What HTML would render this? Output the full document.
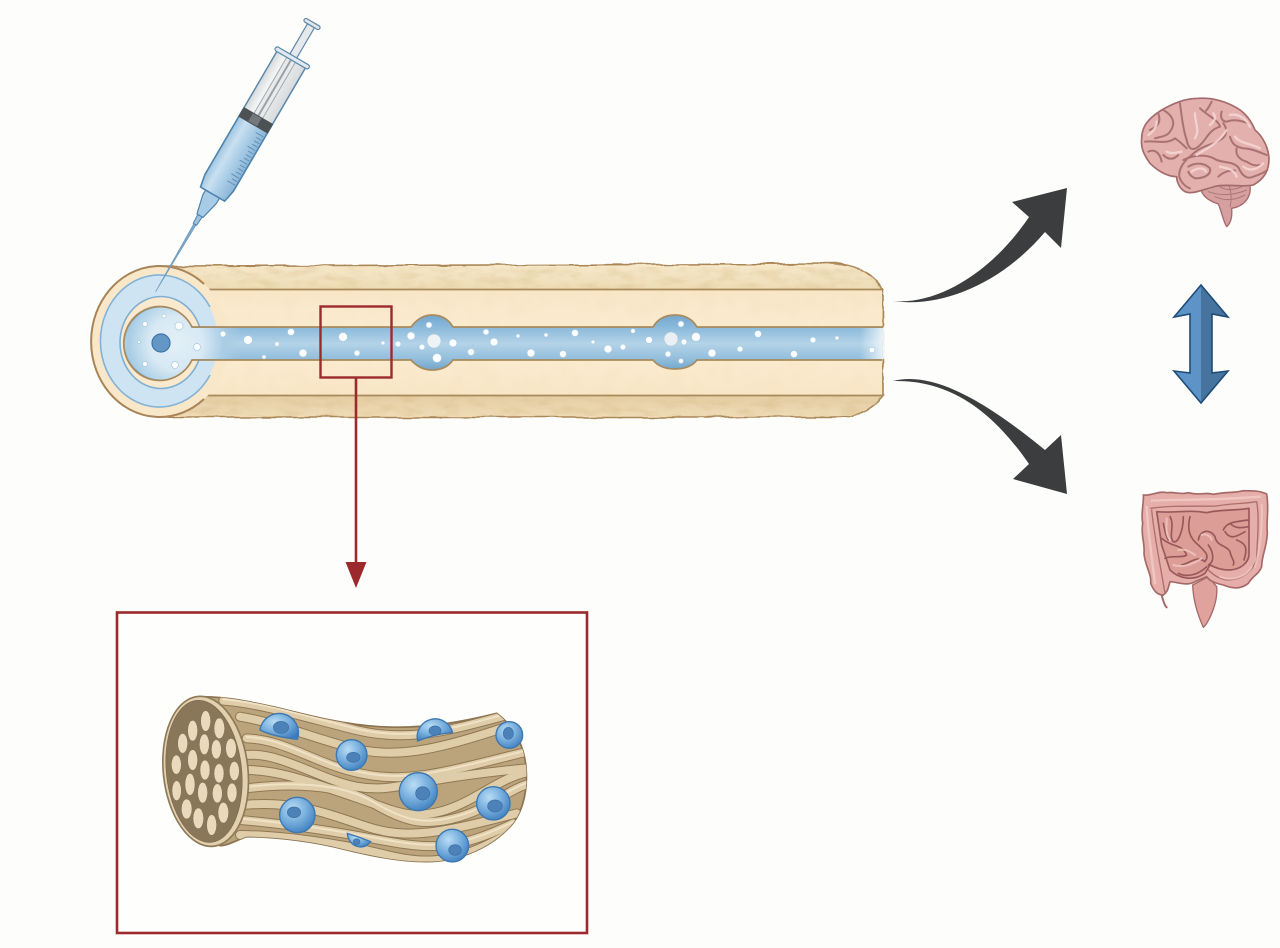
<!DOCTYPE html>
<html lang="en">
<head>
<meta charset="utf-8">
<title>Diagram</title>
<style>
html,body{margin:0;padding:0;background:#fdfdfc;}
svg{display:block;}
</style>
</head>
<body>
<svg xmlns="http://www.w3.org/2000/svg" width="1280" height="948" viewBox="0 0 1280 948">
<defs>
  <filter id="rough" x="-2%" y="-10%" width="104%" height="120%">
    <feTurbulence type="fractalNoise" baseFrequency="0.035 0.09" numOctaves="2" seed="4" result="n"/>
    <feDisplacementMap in="SourceGraphic" in2="n" scale="5" xChannelSelector="R" yChannelSelector="G"/>
  </filter>
  <filter id="tex" x="0" y="0" width="100%" height="100%">
    <feTurbulence type="fractalNoise" baseFrequency="0.05 0.13" numOctaves="3" seed="9"/>
    <feColorMatrix type="matrix" values="0 0 0 0 0.72  0 0 0 0 0.54  0 0 0 0 0.28  0 0 0 2.6 -1.1"/>
  </filter>
  <filter id="texsoft" x="0" y="0" width="100%" height="100%">
    <feTurbulence type="fractalNoise" baseFrequency="0.06 0.05" numOctaves="2" seed="2"/>
    <feColorMatrix type="matrix" values="0 0 0 0 0.85  0 0 0 0 0.68  0 0 0 0 0.4  0 0 0 1.2 -0.5"/>
  </filter>
  <filter id="soft"><feGaussianBlur stdDeviation="0.5"/></filter>
  <linearGradient id="band" x1="0" y1="264" x2="0" y2="418" gradientUnits="userSpaceOnUse">
    <stop offset="0" stop-color="#f6e8ca"/>
    <stop offset=".16" stop-color="#eedcb6"/>
    <stop offset=".82" stop-color="#e3caa0"/>
    <stop offset="1" stop-color="#efdcb8"/>
  </linearGradient>
  <linearGradient id="cream" x1="0" y1="289" x2="0" y2="395" gradientUnits="userSpaceOnUse">
    <stop offset="0" stop-color="#f8e6c6"/>
    <stop offset=".5" stop-color="#fcedd3"/>
    <stop offset="1" stop-color="#f8e6c6"/>
  </linearGradient>
  <linearGradient id="lumen" x1="0" y1="315" x2="0" y2="370" gradientUnits="userSpaceOnUse">
    <stop offset="0" stop-color="#74a7cc"/>
    <stop offset=".22" stop-color="#8ab9da"/>
    <stop offset=".52" stop-color="#b4d3e8"/>
    <stop offset=".8" stop-color="#92bedc"/>
    <stop offset="1" stop-color="#72a5ca"/>
  </linearGradient>
  <radialGradient id="cavity" cx="176" cy="343" r="66" gradientUnits="userSpaceOnUse">
    <stop offset="0" stop-color="#e2eff7"/>
    <stop offset=".4" stop-color="#d8e9f4"/>
    <stop offset=".72" stop-color="#a9cde5"/>
    <stop offset="1" stop-color="#a9cde5" stop-opacity="0"/>
  </radialGradient>
  <linearGradient id="fadeR" x1="860" y1="0" x2="885" y2="0" gradientUnits="userSpaceOnUse">
    <stop offset="0" stop-color="#f2f8fb" stop-opacity="0"/>
    <stop offset="1" stop-color="#f2f8fb" stop-opacity=".95"/>
  </linearGradient>
  <linearGradient id="barrel" x1="-17" y1="0" x2="17" y2="0" gradientUnits="userSpaceOnUse">
    <stop offset="0" stop-color="#d4d8db"/>
    <stop offset=".3" stop-color="#f4f5f5"/>
    <stop offset="1" stop-color="#d6d9db"/>
  </linearGradient>
  <linearGradient id="liquid" x1="-17" y1="0" x2="17" y2="0" gradientUnits="userSpaceOnUse">
    <stop offset="0" stop-color="#9cc4e0"/>
    <stop offset=".28" stop-color="#c9e0f0"/>
    <stop offset=".6" stop-color="#a9cce6"/>
    <stop offset="1" stop-color="#88b4d6"/>
  </linearGradient>
  <radialGradient id="cell" cx=".38" cy=".32" r=".75">
    <stop offset="0" stop-color="#b9dcf4"/>
    <stop offset=".45" stop-color="#7fb4e0"/>
    <stop offset="1" stop-color="#3c7dbd"/>
  </radialGradient>
  <clipPath id="bandclip">
    <path d="M166 266L840 264Q870 268 883 290L883 395Q875 410 850 417L166 417Z"/>
  </clipPath>
  <clipPath id="nerveclip">
    <path d="M190 50C260 50 330 65 420 85C520 110 620 135 720 140C850 148 970 125 1070 100C1110 130 1150 180 1158 260C1165 340 1145 410 1100 450C1050 500 960 545 860 545C770 545 680 525 580 500C480 478 380 470 320 470C290 480 265 497 240 497Z"/>
  </clipPath>
</defs>

<rect width="1280" height="948" fill="#fdfdfc"/>

<!-- tube body -->
<path d="M166 266L840 264Q870 268 883 290L883 395Q875 410 850 417L166 417Z" fill="url(#band)" stroke="#ab8757" stroke-width="1.6" filter="url(#rough)"/>
<g clip-path="url(#bandclip)">
  <rect x="166" y="267" width="717" height="22" filter="url(#tex)" opacity=".4"/>
  <rect x="166" y="395" width="717" height="21" filter="url(#tex)" opacity=".5"/>
</g>
<rect x="166" y="289" width="716" height="106" fill="url(#cream)"/>
<rect x="166" y="289" width="716" height="106" filter="url(#texsoft)" opacity=".25"/>
<path d="M190 289.5H882M190 395.5H882" stroke="#a98a5c" stroke-width="1.7" fill="none"/>

<!-- end cap -->
<ellipse cx="160" cy="341.5" rx="68.5" ry="75.5" fill="#f9e7c9"/>
<path d="M204 284A68.5 75.5 0 1 0 204 399" fill="none" stroke="#a98458" stroke-width="2"/>
<ellipse cx="159" cy="341" rx="59" ry="66" fill="#cfe4f2"/>
<path d="M210 307A59 66 0 1 0 210 375" fill="none" stroke="#82b3d6" stroke-width="1.6"/>
<ellipse cx="161" cy="342.5" rx="41" ry="46" fill="#fae9cd" stroke="#7fb0d4" stroke-width="1.6"/>

<!-- lumen -->
<path id="lum" d="M882 327L697 327Q690 315 675 315Q660 315 653 327L453 327Q446 315 432 315Q420 315 411 327L192 327A36 37 0 1 0 192 360L411 360Q420 370 432 370Q446 370 453 360L653 360Q660 369 675 369Q690 369 697 360L882 360" fill="url(#lumen)"/>
<path d="M245 328L192 328A35 36 0 1 0 192 359L245 359Z" fill="url(#cavity)"/>
<path d="M882 327L697 327Q690 315 675 315Q660 315 653 327L453 327Q446 315 432 315Q420 315 411 327L192 327A36 37 0 1 0 192 360L411 360Q420 370 432 370Q446 370 453 360L653 360Q660 369 675 369Q690 369 697 360L882 360" fill="none" stroke="#a98a5c" stroke-width="1.7"/>
<rect x="860" y="328" width="25" height="31" fill="url(#fadeR)"/>
<circle cx="161" cy="343" r="9" fill="#6497c6" stroke="#3f74a8" stroke-width="1.2"/>

<!-- bubbles -->
<g fill="#fbfdfe" stroke="#a9cbe2" stroke-width=".7">
  <circle cx="223" cy="334" r="3"/><circle cx="248" cy="340" r="4.5"/><circle cx="277" cy="344" r="2.5"/><circle cx="291" cy="332" r="3.5"/><circle cx="303" cy="353" r="4"/><circle cx="264" cy="357" r="2"/><circle cx="343" cy="337" r="4.5"/><circle cx="357" cy="353" r="3"/><circle cx="383" cy="343" r="2"/><circle cx="398" cy="344" r="3"/><circle cx="197" cy="347" r="3.5"/><circle cx="179" cy="326" r="4"/><circle cx="164" cy="316" r="2"/><circle cx="145" cy="324" r="2.5"/><circle cx="139" cy="342" r="1.5"/><circle cx="145" cy="364" r="2.5"/><circle cx="175" cy="365" r="3.5"/>
  <circle cx="411" cy="336" r="4"/><circle cx="422" cy="347" r="3"/><circle cx="429" cy="325" r="3"/><circle cx="434" cy="341" r="7" fill="#eef3f5"/><circle cx="437" cy="358" r="4.5"/><circle cx="453" cy="343" r="4"/><circle cx="471" cy="352" r="3.5"/><circle cx="486" cy="332" r="3"/><circle cx="494" cy="342" r="4"/><circle cx="518" cy="336" r="2"/><circle cx="531" cy="353" r="4"/><circle cx="546" cy="335" r="2"/><circle cx="563" cy="354" r="3.5"/><circle cx="575" cy="333" r="3.5"/><circle cx="593" cy="342" r="2"/><circle cx="608" cy="349" r="4"/><circle cx="623" cy="347" r="3"/><circle cx="633" cy="331" r="2.3"/><circle cx="649" cy="340" r="3.5"/><circle cx="671" cy="339" r="7" fill="#e9eff2"/><circle cx="681" cy="324" r="3"/><circle cx="684" cy="342" r="3"/><circle cx="696" cy="337" r="4.5"/><circle cx="668" cy="354" r="3"/><circle cx="681" cy="361" r="2.5"/><circle cx="712" cy="353" r="4"/><circle cx="740" cy="349" r="3"/><circle cx="758" cy="334" r="3.5"/><circle cx="794" cy="354" r="3.5"/><circle cx="813" cy="340" r="3"/><circle cx="837" cy="338" r="2"/><circle cx="872" cy="350" r="3"/>
</g>

<!-- syringe -->
<g transform="translate(312,24) rotate(30.3)" stroke-linejoin="round">
  <path d="M-1.3 232L1.3 232L0 310Z" fill="#7fa9c8" stroke="#6c9abd" stroke-width=".7"/>
  <path d="M-2.5 222L2.5 222L2 232L-2 232Z" fill="#9fc3de" stroke="#4f84ad" stroke-width="1"/>
  <path d="M-8 194L8 194L8 203L3.5 222L-3.5 222L-8 203Z" fill="#a9cce6" stroke="#4f84ad" stroke-width="1.2"/>
  <rect x="-4" y="2" width="8" height="36" fill="#e6e9eb" stroke="#5f87a6" stroke-width="1.2"/>
  <rect x="-9" y="-2" width="18" height="4" rx="2" fill="#dfe6eb" stroke="#5f87a6" stroke-width="1.2"/>
  <rect x="-16.5" y="39" width="33" height="70" fill="url(#barrel)" stroke="#5a88ab" stroke-width="1.5"/>
  <rect x="-5" y="39" width="10" height="68" fill="#e8eaeb" stroke="#a2a9ae" stroke-width="1"/>
  <rect x="-1" y="39" width="2" height="68" fill="#9aa2a8"/>
  <path d="M-16.5 109H16.5V184L14 197H-14L-16.5 184Z" fill="url(#liquid)" stroke="#4f84ad" stroke-width="1.6"/>
  <rect x="-17" y="106" width="34" height="11" fill="#4c5154"/>
  <rect x="-6" y="107" width="10" height="9" fill="#72787b"/>
  <rect x="-19.5" y="37" width="39" height="4.5" rx="2.2" fill="#e2e9ee" stroke="#5a88ab" stroke-width="1.2"/>
  <g stroke="#5d8db3" stroke-width=".9">
    <path d="M6 122H15M9 126H15M9 130H15M9 134H15M6 138H15M9 142H15M9 146H15M9 150H15M6 154H15M9 158H15M9 162H15M9 166H15M6 170H15M9 174H15M6 178H15"/>
  </g>
</g>

<!-- red zoom box and arrow -->
<rect x="320.5" y="306.5" width="71" height="71" fill="none" stroke="#9c2a2d" stroke-width="2.4"/>
<path d="M356 378V566" stroke="#9c2a2d" stroke-width="2.6" fill="none"/>
<path d="M345.5 562L366.5 562L356 588Z" fill="#9c2a2d"/>
<rect x="117" y="612.5" width="470" height="320.5" fill="#fefefd" stroke="#9c2a2d" stroke-width="2.6"/>

<!-- nerve bundle -->
<g transform="translate(140,680) scale(.33333)">
  <path d="M190 50C260 50 330 65 420 85C520 110 620 135 720 140C850 148 970 125 1070 100C1110 130 1150 180 1158 260C1165 340 1145 410 1100 450C1050 500 960 545 860 545C770 545 680 525 580 500C480 478 380 470 320 470C290 480 265 497 240 497Z" fill="#bba37c" stroke="#8a7350" stroke-width="5"/>
  <g clip-path="url(#nerveclip)" fill="none" stroke-linecap="round">
    <g stroke="#8f7853" stroke-width="30">
      <path d="M250 62C360 70 490 110 640 148S900 160 1090 108"/>
      <path d="M300 110C420 130 520 175 640 205S880 215 1100 140"/>
      <path d="M320 175C440 180 520 250 660 280S900 280 1160 215"/>
      <path d="M320 225C420 215 540 300 650 320S800 300 1160 265"/>
      <path d="M320 270C420 270 520 310 640 350S800 420 900 395S1080 290 1170 275"/>
      <path d="M320 325C440 310 600 310 700 370S860 440 960 410S1100 330 1170 310"/>
      <path d="M310 375C460 360 560 400 680 440S900 460 1130 400"/>
      <path d="M300 420C420 430 560 450 720 480S950 510 1120 430"/>
      <path d="M300 465C420 465 600 490 740 525S960 540 1100 465"/>
    </g>
    <g stroke="#dfccA8" stroke-width="24">
      <path d="M250 62C360 70 490 110 640 148S900 160 1090 108"/>
      <path d="M300 110C420 130 520 175 640 205S880 215 1100 140"/>
      <path d="M320 175C440 180 520 250 660 280S900 280 1160 215"/>
      <path d="M320 225C420 215 540 300 650 320S800 300 1160 265"/>
      <path d="M320 270C420 270 520 310 640 350S800 420 900 395S1080 290 1170 275"/>
      <path d="M320 325C440 310 600 310 700 370S860 440 960 410S1100 330 1170 310"/>
      <path d="M310 375C460 360 560 400 680 440S900 460 1130 400"/>
      <path d="M300 420C420 430 560 450 720 480S950 510 1120 430"/>
      <path d="M300 465C420 465 600 490 740 525S960 540 1100 465"/>
    </g>
    <g stroke="#efe2c7" stroke-width="6">
      <path d="M250 58C360 66 490 106 640 144S900 156 1090 104"/>
      <path d="M320 171C440 176 520 246 660 276S900 276 1160 211"/>
      <path d="M320 321C440 306 600 306 700 366S860 436 960 406S1100 326 1170 306"/>
      <path d="M300 416C420 426 560 446 720 476S950 506 1120 426"/>
    </g>
  </g>
  <!-- cells -->
  <g stroke="#3b77b0" stroke-width="4" fill="url(#cell)">
    <path d="M472 178A58 58 0 1 0 360 150Q400 170 472 178Z"/>
    <circle cx="635" cy="225" r="46"/>
    <path d="M833 183A52 52 0 0 1 938 158Q890 160 833 183Z"/>
    <circle cx="1108" cy="165" r="40"/>
    <circle cx="835" cy="335" r="57"/>
    <circle cx="1060" cy="370" r="50"/>
    <circle cx="472" cy="405" r="53"/>
    <path d="M622 460Q655 470 692 485C670 515 625 500 622 460Z"/>
    <circle cx="937" cy="497" r="49"/>
  </g>
  <g fill="#4c82b8" stroke="#3a6fa3" stroke-width="2">
    <ellipse cx="423" cy="142" rx="23" ry="18"/>
    <ellipse cx="640" cy="232" rx="20" ry="15"/>
    <ellipse cx="885" cy="152" rx="18" ry="14"/>
    <ellipse cx="1105" cy="160" rx="15" ry="18"/>
    <ellipse cx="848" cy="340" rx="21" ry="20"/>
    <ellipse cx="1065" cy="378" rx="22" ry="18"/>
    <ellipse cx="462" cy="397" rx="20" ry="16"/>
    <ellipse cx="650" cy="485" rx="10" ry="9"/>
    <ellipse cx="945" cy="510" rx="19" ry="16"/>
  </g>
  <!-- cut end -->
  <ellipse cx="197" cy="274" rx="127" ry="226" transform="rotate(-6 197 274)" fill="#e2d0ae" stroke="#8f7a58" stroke-width="5"/>
  <ellipse cx="192" cy="274" rx="113" ry="214" transform="rotate(-6 192 274)" fill="#8a7658" stroke="#7c6a4e" stroke-width="2"/>
  <g fill="#ead9bb" stroke="#7f6d52" stroke-width="1.5">
    <ellipse cx="197" cy="123" rx="15" ry="31"/><ellipse cx="238" cy="145" rx="16" ry="31"/><ellipse cx="158" cy="152" rx="15" ry="31"/><ellipse cx="128" cy="190" rx="15" ry="30"/><ellipse cx="193" cy="193" rx="15" ry="31"/><ellipse cx="229" cy="208" rx="15" ry="29"/><ellipse cx="273" cy="205" rx="16" ry="30"/><ellipse cx="158" cy="240" rx="15" ry="31"/><ellipse cx="109" cy="254" rx="15" ry="29"/><ellipse cx="195" cy="270" rx="15" ry="30"/><ellipse cx="237" cy="280" rx="15" ry="29"/><ellipse cx="283" cy="273" rx="15" ry="29"/><ellipse cx="150" cy="313" rx="15" ry="33"/><ellipse cx="110" cy="332" rx="14" ry="30"/><ellipse cx="188" cy="338" rx="15" ry="31"/><ellipse cx="232" cy="340" rx="15" ry="29"/><ellipse cx="276" cy="338" rx="15" ry="29"/><ellipse cx="140" cy="387" rx="16" ry="30"/><ellipse cx="175" cy="415" rx="16" ry="31"/><ellipse cx="250" cy="398" rx="16" ry="31"/><ellipse cx="215" cy="435" rx="15" ry="31"/>
  </g>
</g>

<!-- flow arrows -->
<path d="M893 301C935 305 990 275 1029 217L1012 202L1067 188L1061 248L1045 232C1000 285 940 308 893 301Z" fill="#3b3d3e"/>
<path d="M893 381C935 370 990 405 1045 450L1061 435L1067 494L1013 479L1029 464C985 400 940 380 893 381Z" fill="#3b3d3e"/>

<!-- double arrow -->
<path d="M1201 285L1174 317L1190 314V372L1174 371L1201 403Z" fill="#5e93c8"/>
<path d="M1201 285L1228 317L1212 314V372L1228 371L1201 403Z" fill="#47749f"/>
<path d="M1201 285L1228 317L1212 314V373L1228 371L1201 403L1174 371L1190 373V314L1174 317Z" fill="none" stroke="#1f4d78" stroke-width="1.6" stroke-linejoin="miter"/>

<!-- brain -->
<g transform="translate(1120,80) scale(.33333)" fill="none" stroke-linecap="round" stroke-linejoin="round">
  <path d="M240 320C245 345 260 360 295 372C305 395 310 425 320 440C332 430 337 410 335 385C375 378 395 350 390 315L340 295Z" fill="#d5a09f" stroke="#a56a6c" stroke-width="4"/>
  <path d="M265 335Q320 355 380 330M285 350Q330 370 375 345M300 320Q330 340 375 315M320 300Q340 340 330 380" stroke="#b07577" stroke-width="3"/>
  <path d="M65 175C65 140 85 115 125 90C160 70 195 55 235 55C270 52 310 62 340 78C375 95 395 125 405 150C430 170 445 205 447 235C447 270 435 295 400 315C370 322 330 312 290 318C250 328 215 345 195 335C178 325 170 305 170 290C140 290 110 270 90 250C72 225 62 205 65 175Z" fill="#e3b0ae" stroke="#a56a6c" stroke-width="5"/>
  <g stroke="#ab7274" stroke-width="6">
    <path d="M90 150C110 140 125 130 115 100"/>
    <path d="M130 90C165 110 165 135 150 155C140 170 120 170 105 175"/>
    <path d="M75 185C105 180 140 195 165 175C180 185 190 195 200 205"/>
    <path d="M180 70C185 110 190 150 200 180C205 205 215 215 235 200C260 180 265 150 300 140C295 120 260 105 240 85"/>
    <path d="M275 65C270 75 265 85 258 92"/>
    <path d="M305 95C300 110 305 125 320 125C345 115 370 125 385 130"/>
    <path d="M310 130C325 150 320 170 300 180C280 195 245 195 215 225C195 240 175 265 178 290C182 305 195 320 210 325"/>
    <path d="M190 240C220 225 260 220 290 240C320 250 340 245 355 262C365 285 380 300 400 290C415 285 430 280 442 270"/>
    <path d="M205 260C230 245 255 250 270 265C275 285 250 295 225 295C215 290 208 285 205 275"/>
    <path d="M330 170C335 190 345 200 370 205C395 205 420 218 440 225"/>
    <path d="M350 205C345 225 360 240 380 245C395 255 405 258 420 255"/>
    <path d="M295 290C310 275 330 270 345 272"/>
    <path d="M130 225C145 240 160 240 175 225M85 215C105 205 120 220 125 245"/>
  </g>
  <g stroke="#f5d8d5" stroke-width="7" opacity=".85">
    <path d="M215 275C235 260 255 265 258 275"/>
    <path d="M225 100C225 130 240 150 225 175"/>
    <path d="M330 105C350 100 375 110 390 140"/>
    <path d="M85 165C100 155 110 140 110 125"/>
    <path d="M140 215C160 225 175 215 185 215"/>
    <path d="M345 170C360 190 390 190 420 205"/>
    <path d="M270 135C285 120 290 115 280 100"/>
    <path d="M230 225C260 205 290 195 320 150"/>
    <path d="M300 260C320 265 340 265 350 290"/>
    <path d="M370 260C390 275 410 270 430 250"/>
  </g>
</g>

<!-- intestines -->
<g transform="translate(1120,480) scale(.33333)" fill="none" stroke-linecap="round" stroke-linejoin="round">
  <path d="M125 345C130 365 135 378 140 382" stroke="#a56a68" stroke-width="6"/>
  <path d="M218 315C220 370 240 420 250 442C262 435 295 370 290 320L265 290Z" fill="#e0a29c" stroke="#a56a68" stroke-width="4"/>
  <path d="M70 45C95 48 115 32 140 38C165 35 185 45 205 38C240 48 255 35 280 43C320 35 340 40 370 32C395 32 420 32 440 42C448 90 438 120 442 160C440 205 425 225 425 260C415 285 400 285 385 310C360 330 335 325 310 315C290 310 270 305 260 290L225 305C200 320 170 305 150 305C145 320 145 335 130 345C110 345 100 330 92 310C95 280 75 260 72 220C75 190 62 165 68 130C62 100 72 70 70 45Z" fill="#e6aea8" stroke="#a56a68" stroke-width="5"/>
  <path d="M110 95C170 100 200 88 260 98C300 88 350 92 387 85V225C385 250 360 268 330 270C300 270 285 262 270 255L255 280C220 305 175 295 150 270L125 195Z" fill="#dd9d97" stroke="#9a5a5a" stroke-width="5"/>
  <path d="M92 85C160 75 230 80 290 78C330 70 370 72 410 65C420 120 410 190 410 240C395 275 370 300 320 300C295 295 280 285 265 270" stroke="#ad6f6c" stroke-width="4"/>
  <path d="M95 90C100 150 118 240 135 340" stroke="#ad6f6c" stroke-width="4"/>
  <path d="M80 80C82 140 95 230 105 310" stroke="#f2cdc6" stroke-width="7" opacity=".8"/>
  <path d="M95 62C160 58 260 62 420 50" stroke="#f2cdc6" stroke-width="7" opacity=".8"/>
  <path d="M425 75C428 140 420 210 405 260" stroke="#f2cdc6" stroke-width="6" opacity=".7"/>
  <g stroke="#985858" stroke-width="5">
    <path d="M150 110C165 135 145 170 160 185C175 190 190 150 190 110"/>
    <path d="M125 175C160 205 185 190 200 225C190 235 150 225 135 235"/>
    <path d="M210 110C200 150 210 175 235 195C255 215 270 225 255 245C230 225 210 250 185 255"/>
    <path d="M235 180C240 150 270 145 285 170C290 200 320 195 330 215C335 240 345 240 340 255"/>
    <path d="M265 195C280 215 285 245 265 255"/>
    <path d="M310 150C320 125 350 125 385 120M315 155C330 180 350 170 375 155M330 130C345 145 360 145 385 140"/>
    <path d="M350 180C375 190 385 200 372 240"/>
    <path d="M175 280C205 295 240 280 260 260"/>
    <path d="M130 130C135 150 135 165 145 180"/>
  </g>
  <g stroke="#efc6c0" stroke-width="6" opacity=".85">
    <path d="M175 210C195 205 210 215 225 225"/>
    <path d="M245 165C255 160 270 165 275 180"/>
    <path d="M140 115C140 135 135 160 150 180"/>
    <path d="M300 290C335 305 380 290 395 260"/>
    <path d="M160 255C190 265 225 250 245 235"/>
  </g>
</g>
</svg>
</body>
</html>
